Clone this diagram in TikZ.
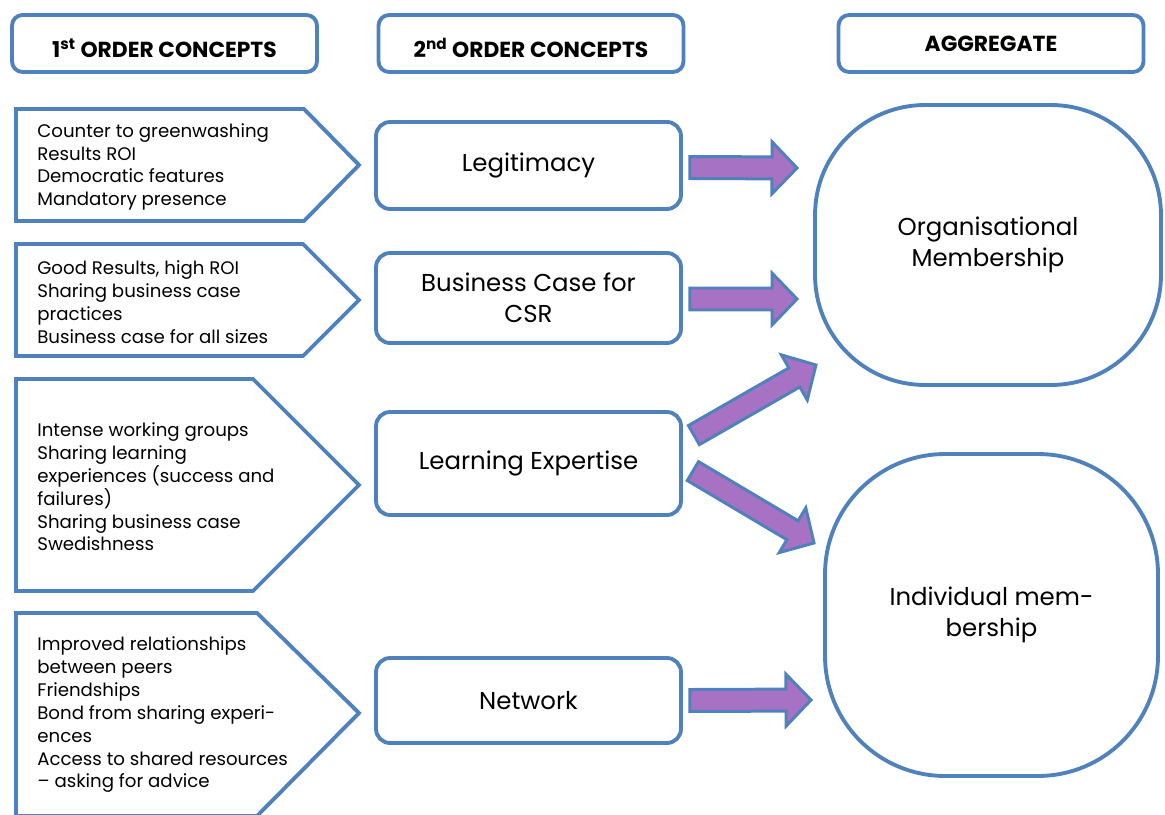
\documentclass[tikz,border=0pt]{standalone}
\usepackage{fontspec}
\setmainfont{Poppins}
\usetikzlibrary{calc}

\definecolor{boxblue}{RGB}{79,129,189}
\definecolor{arrowpurple}{RGB}{167,114,196}

\tikzset{
    headbox/.style={draw=boxblue,line width=2.2pt,rounded corners=6pt,
        minimum width=6.1cm,minimum height=1.14cm,
        font=\fontsize{12.4}{14}\selectfont\bfseries},
    lowtext/.style={text height=18pt,text depth=2pt},
    conceptbox/.style={draw=boxblue,line width=2.2pt,rounded corners=8pt,
        minimum width=6.1cm,align=center,font=\fontsize{13.9}{17.6}\selectfont},
    aggbox/.style={draw=boxblue,line width=2.2pt,align=center,
        font=\fontsize{13.9}{17.6}\selectfont},
    firstshape/.style={draw=boxblue,line width=2.2pt,miter limit=4},
    firsttext/.style={anchor=west,align=left,inner sep=0pt,
        font=\fontsize{10.35}{13}\selectfont},
    blockarrow/.style={draw=boxblue,fill=arrowpurple,line width=1.7pt}
}

% block arrow from tail #1 to tip #2
\newcommand{\bigarrow}[2]{%
    \coordinate (#1-h) at ($(#2)!0.5cm!(#1)$);
    \draw[blockarrow] ($(#1)!0.22cm!90:(#2)$) -- ($(#1-h)!0.22cm!90:(#2)$)
        -- ($(#1-h)!0.52cm!90:(#2)$) -- (#2) -- ($(#1-h)!0.52cm!-90:(#2)$)
        -- ($(#1-h)!0.22cm!-90:(#2)$) -- ($(#1)!0.22cm!-90:(#2)$) -- cycle;
}

\begin{document}
\begin{tikzpicture}[x=0.02cm,y=-0.02cm]
        \useasboundingbox (0,0) rectangle (1165,814);

        % draw the column headers
        \foreach \name/\x/\opt/\htext in {
            first/164.5/lowtext/{1\textsuperscript{st} ORDER CONCEPTS},
            second/531/lowtext/{2\textsuperscript{nd} ORDER CONCEPTS},
            agg/991/{}/{AGGREGATE}}
                \node[headbox,\opt] (head-\name) at (\x,43.5) {\htext};

        % draw the first order shapes
        \foreach \top/\bot/\str/\tip in {109/221/304/165, 244/356/303/300,
            379/591/253/485, 613/816/257/713}
                \draw[firstshape] (16,\top) -- (\str,\top) -- (359,\tip)
                    -- (\str,\bot) -- (16,\bot) -- cycle;

        % first order texts
        \node[firsttext] (first-legit) at (37,167) {Counter to greenwashing\\
            Results ROI\\ Democratic features\\ Mandatory presence};
        \node[firsttext] (first-business) at (37,302) {Good Results, high ROI\\
            Sharing business case\\ practices\\ Business case for all sizes};
        \node[firsttext] (first-learn) at (37,487) {Intense working groups\\
            Sharing learning\\ experiences (success and\\ failures)\\
            Sharing business case\\ Swedishness};
        \node[firsttext] (first-network) at (37,715) {Improved relationships\\
            between peers\\ Friendships\\ Bond from sharing experi-\\ ences\\
            Access to shared resources\\ -- asking for advice};

        % draw the second order concepts
        \node[conceptbox,minimum height=1.74cm] (legit) at (528.5,165.5) {Legitimacy};
        \node[conceptbox,minimum height=1.8cm] (business) at (528.5,298) {Business Case for\\ CSR};
        \node[conceptbox,minimum height=2.06cm] (learn) at (528.5,463.5) {Learning Expertise};
        \node[conceptbox,minimum height=1.7cm] (network) at (528.5,700.5) {Network};

        % draw the aggregates
        \node[aggbox,rounded corners=2.2cm,minimum width=6.92cm,minimum height=5.6cm]
            (org) at (988,245) {Organisational\\ Membership};
        \node[aggbox,rounded corners=2.4cm,minimum width=6.66cm,minimum height=6.44cm]
            (indiv) at (991.5,615) {Individual mem-\\ bership};

        % arrow ends
        \coordinate (legit-out) at ($(legit.east)+(7,2)$);
        \coordinate (business-out) at ($(business.east)+(7,1)$);
        \coordinate (learn-up) at ($(learn.north east)+(11,25)$);
        \coordinate (learn-down) at ($(learn.north east)+(10,61)$);
        \coordinate (network-out) at ($(network.east)+(7,0)$);
        \coordinate (org-in1) at (797,168);
        \coordinate (org-in2) at (797,299);
        \coordinate (org-in3) at (816,365);
        \coordinate (indiv-in1) at (814,543);
        \coordinate (indiv-in2) at (811,700);

        % draw the block arrows
        \foreach \a/\b in {legit-out/org-in1, business-out/org-in2,
            learn-up/org-in3, learn-down/indiv-in1, network-out/indiv-in2}
                {\bigarrow{\a}{\b}}
\end{tikzpicture}
\end{document}
